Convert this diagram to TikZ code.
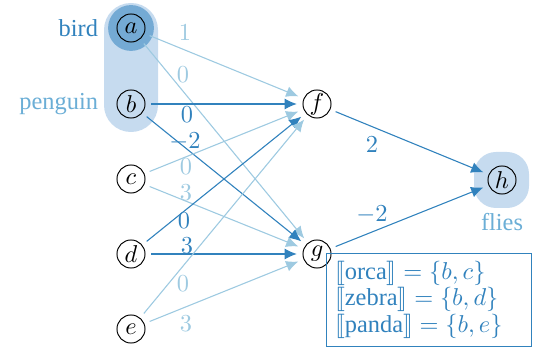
\documentclass[tikz,border=0pt]{standalone}
\usepackage[no-math]{fontspec}
\setmainfont{Liberation Serif}
\usepackage{amsmath,amssymb}
\usepackage{stmaryrd}
\usetikzlibrary{positioning}
\usetikzlibrary{arrows.meta}
\definecolor{darkblue}{HTML}{3182BD}
\definecolor{midblue}{HTML}{6BAED6}
\definecolor{lightblue}{HTML}{9ECAE1}
\definecolor{paleblue}{HTML}{C6DBEF}
\definecolor{birdblue}{HTML}{74AAD4}

\begin{document}
\begin{tikzpicture}[x=0.41pt,y=-0.41pt,unit/.style={circle,draw,inner sep=0pt,minimum size=11.5pt,outer sep=2.5pt},weak/.style={draw=lightblue,line width=0.45pt,-{Latex[length=5pt,width=4.5pt]}},strong/.style={draw=darkblue,line width=0.45pt,-{Latex[length=5pt,width=4.5pt]}},weakw/.style={text=lightblue},strongw/.style={text=darkblue}]
  \useasboundingbox (0,0) rectangle (537,352);
  %highlights
  \fill[paleblue,rounded corners=11pt] (104,3) rectangle (158,132);
  \fill[birdblue] (131,28) circle (9.4pt);
  \fill[paleblue,rounded corners=9pt] (474,152) rectangle (529,208);

  %input layer
  \node[unit] (a) at (131,28) {$a$};
  \node[unit] (b) at (131,104) {$b$};
  \node[unit] (c) at (131,179) {$c$};
  \node[unit] (d) at (131,254) {$d$};
  \node[unit] (e) at (131,329) {$e$};
  \node[at=(a),left=10pt,text=darkblue] (bird) {bird};
  \node[at=(b),left=10pt,text=midblue] (penguin) {penguin};
  %hidden layer
  \node[unit] (f) at (317,104) {$f$};
  \node[unit] (g) at (317,254) {$g$};
  %output
  \node[unit] (h) at (502,180) {$h$};
  \node[at=(h),below=10pt,text=midblue] (flies) {flies};

  %weights into f and g
  \draw[weak] (a) -- (f);
  \draw[weak] (a) -- (g);
  \draw[strong] (b) -- (f);
  \draw[strong] (b) -- (g);
  \draw[weak] (c) -- (f);
  \draw[weak] (c) -- (g);
  \draw[strong] (d) -- (f);
  \draw[strong] (d) -- (g);
  \draw[weak] (e) -- (f);
  \draw[weak] (e) -- (g);
  \node[weakw] (w-af) at (185,33) {$1$};
  \node[weakw] (w-ag) at (183,75) {$0$};
  \node[strongw] (w-bf) at (187,115) {$0$};
  \node[strongw] (w-bg) at (185,142) {$-2$};
  \node[weakw] (w-cf) at (186,167) {$0$};
  \node[weakw] (w-cg) at (186,193) {$3$};
  \node[strongw] (w-df) at (184,221) {$0$};
  \node[strongw] (w-dg) at (187,246) {$3$};
  \node[weakw] (w-ef) at (183,284) {$0$};
  \node[weakw] (w-eg) at (186,324) {$3$};
  %weights into h
  \draw[strong] (f) -- (h);
  \draw[strong] (g) -- (h);
  \node[strongw] (w-fh) at (372,145) {$2$};
  \node[strongw] (w-gh) at (372,215) {$-2$};

  %denotations
  \node[draw=darkblue,text=darkblue,line width=0.45pt,anchor=north west,align=left,inner xsep=3.5pt,inner ysep=3pt,text width=77pt,font=\fontsize{10pt}{11pt}\selectfont] (sets) at (326,253) {$\llbracket\text{orca}\rrbracket = \{b, c\}$\\$\llbracket\text{zebra}\rrbracket = \{b, d\}$\\$\llbracket\text{panda}\rrbracket = \{b, e\}$};
\end{tikzpicture}
\end{document}
